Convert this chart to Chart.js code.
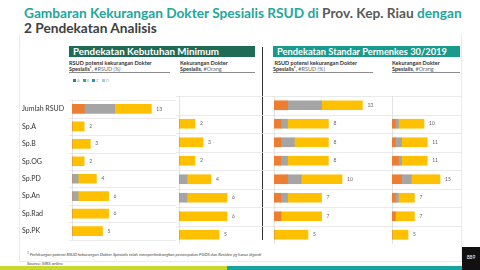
<!DOCTYPE html>
<html>
<head>
<meta charset="utf-8">
<script src="https://cdn.jsdelivr.net/npm/chart.js@4"></script>
<style>
  html, body { margin: 0; padding: 0; }
  body { width: 480px; height: 270px; position: relative; overflow: hidden; background: #fff; font-family: Lato, "Open Sans", sans-serif; }
  .abs { position: absolute; }
  .frame { left: 19px; top: 34px; width: 441px; height: 227px; border: 1px solid #ece8f5; border-top: none; }
  .title { left: 24px; top: 5px; font-size: 13.7px; font-weight: 700; line-height: 15px; color: #23a69b; white-space: nowrap; }
  .title .g { color: #595959; }
  .title .d { color: #404040; }
  .hdr { top: 46px; height: 11px; color: #fff; font-weight: 700; font-size: 9.3px; line-height: 11px; padding-left: 4px; box-sizing: border-box; white-space: nowrap; }
  .sub { top: 60px; font-size: 5.5px; line-height: 6px; color: #333; border-bottom: 1.5px solid #8c8c8c; height: 12.5px; box-sizing: border-box; white-space: nowrap; }
  .sub b { font-weight: 700; }
  .sub span { color: #666; }
  .legend { left: 71px; top: 78px; font-size: 4px; color: #9aa; white-space: nowrap; }
  .legend i { display: inline-block; width: 3px; height: 3px; margin: 0 1px 0 2px; }
  .vsep { left: 262px; top: 47px; width: 1.2px; height: 193px; background: #333; }
  canvas { position: absolute; top: 96px; }
  .note { left: 27px; top: 251px; font-size: 4.3px; font-style: italic; color: #444; white-space: nowrap; }
  .src { left: 27px; top: 261px; font-size: 4.3px; color: #444; }
  .stripe1 { left: 0; top: 266px; width: 227px; height: 4px; background: #c8d82e; }
  .stripe2 { left: 227px; top: 266px; width: 236px; height: 4px; background: #17a59b; }
  .page { left: 462px; top: 247px; width: 18px; height: 23px; background: #111; color: #fff; font-size: 5px; text-align: center; line-height: 20px; }
</style>
</head>
<body>
<div class="abs frame"></div>
<div class="abs title">Gambaran Kekurangan Dokter Spesialis RSUD di <span class="g">Prov. Kep. Riau</span> dengan<br><span class="d">2 Pendekatan Analisis</span></div>

<div class="abs hdr" style="left:69px;width:186px;background:#1f6b56;font-size:9.8px;">Pendekatan Kebutuhan Minimum</div>
<div class="abs hdr" style="left:273px;width:187px;background:#189b8d;">Pendekatan Standar Permenkes 30/2019</div>

<div class="abs sub" style="left:69px;width:101px;"><b>RSUD potensi kekurangan Dokter</b><br><b>Spesialis¹</b>, <span>#RSUD <i>(%)</i></span></div>
<div class="abs sub" style="left:180px;width:75px;"><b>Kekurangan Dokter</b><br><b>Spesialis</b>, <span>#Orang</span></div>
<div class="abs sub" style="left:273px;width:100px;">&nbsp;<b>RSUD potensi kekurangan Dokter</b><br><b>Spesialis¹</b>, <span>#RSUD (%)</span></div>
<div class="abs sub" style="left:392px;width:68px;"><b>Kekurangan Dokter</b><br><b>Spesialis</b>, <span>#Orang</span></div>

<div class="abs legend"><i style="background:#1f8f86"></i>A <i style="background:#3aa0a8"></i>B <i style="background:#2f8fb0"></i>C <i style="background:#9fd0d8"></i>D</div>
<div class="abs vsep"></div>

<canvas id="c1" width="176" height="148" style="left:0px"></canvas>
<canvas id="c2" width="87" height="148" style="left:176px"></canvas>
<canvas id="c3" width="126" height="148" style="left:263px"></canvas>
<canvas id="c4" width="72" height="148" style="left:389px"></canvas>

<div class="abs note"><sup style="font-size:3px">1</sup> Perhitungan potensi RSUD kekurangan Dokter Spesialis telah mempertimbangkan penempatan PGDS dan Residen yg harus diganti</div>
<div class="abs src">Source: SIRS online</div>
<div class="abs stripe1"></div>
<div class="abs stripe2"></div>
<div class="abs page">889</div>

<script>
const categories = ['Jumlah RSUD', 'Sp.A', 'Sp.B', 'Sp.OG', 'Sp.PD', 'Sp.An', 'Sp.Rad', 'Sp.PK'];

// Pendekatan Kebutuhan Minimum - #RSUD
const minRsudOrange = [2, 0, 0, 0, 0, 0, 0, 0];
const minRsudGray   = [5, 0, 0, 0, 1, 1, 0, 0];
const minRsudYellow = [6, 2, 3, 2, 3, 5, 6, 5];

// Pendekatan Kebutuhan Minimum - #Orang
const minOrangOrange = [null, 0, 0, 0, 0, 0, 0, 0];
const minOrangGray   = [null, 0, 0, 0, 1, 1, 0, 0];
const minOrangYellow = [null, 2, 3, 2, 3, 5, 6, 5];

// Pendekatan Standar Permenkes 30/2019 - #RSUD
const stdRsudOrange = [2, 1, 1, 1, 2, 1, 1, 0];
const stdRsudGray   = [5, 1, 2, 1, 2, 1, 0, 0];
const stdRsudYellow = [6, 6, 5, 6, 6, 5, 6, 5];

// Pendekatan Standar Permenkes 30/2019 - #Orang
const stdOrangOrange = [null, 1, 1, 2, 3, 1, 1, 0];
const stdOrangGray   = [null, 1, 2, 1, 3, 1, 0, 0];
const stdOrangYellow = [null, 8, 8, 8, 9, 5, 6, 5];

const COLORS = ['#ed7d31', '#a5a5a5', '#ffc000'];

// row separators + axis line + value labels
const rowsPlugin = {
    id: 'rows',
    beforeDatasetsDraw(chart, args, opts) {
        const { ctx, chartArea } = chart;
        const band = (chartArea.bottom - chartArea.top) / categories.length;
        ctx.save();
        ctx.strokeStyle = '#e4e4e4';
        ctx.lineWidth = 0.8;
        for (let i = 0; i <= categories.length; i++) {
            const py = Math.round(chartArea.top + i * band) + 0.5;
            ctx.beginPath();
            ctx.moveTo(opts.lineStart || 0, py);
            ctx.lineTo(chart.width, py);
            ctx.stroke();
        }
        ctx.strokeStyle = '#dcdcdc';
        ctx.beginPath();
        ctx.moveTo(chartArea.left + 0.5, chartArea.top);
        ctx.lineTo(chartArea.left + 0.5, chartArea.bottom);
        ctx.stroke();
        ctx.restore();
    },
    afterDatasetsDraw(chart) {
        const { ctx, scales } = chart;
        ctx.save();
        ctx.font = '5px Lato, sans-serif';
        ctx.fillStyle = '#666';
        ctx.textBaseline = 'middle';
        categories.forEach((c, i) => {
            let total = null;
            chart.data.datasets.forEach(ds => {
                if (ds.data[i] != null) total = (total || 0) + ds.data[i];
            });
            if (total == null) return;
            ctx.fillText(String(total), scales.x.getPixelForValue(total) + 5, scales.y.getPixelForValue(i));
        });
        ctx.restore();
    }
};

function makeChart(id, series, xMax, padLeft, lineStart, showLabels) {
    const yScale = {
        stacked: true,
        display: showLabels,
        grid: { display: false },
        border: { display: false },
        ticks: { crossAlign: 'far', color: '#333', font: { family: 'Lato, sans-serif', size: 7 }, padding: 0 }
    };
    if (showLabels) yScale.afterFit = scale => { scale.width = 50; };
    return new Chart(document.getElementById(id), {
        type: 'bar',
        data: {
            labels: categories,
            datasets: series.map((d, k) => ({
                data: d,
                backgroundColor: COLORS[k],
                borderWidth: 0,
                barThickness: 9
            }))
        },
        options: {
            indexAxis: 'y',
            responsive: false,
            animation: false,
            devicePixelRatio: 1,
            layout: { padding: { left: padLeft, right: 0, top: 0, bottom: 0 } },
            plugins: { legend: { display: false }, tooltip: { enabled: false }, rows: { lineStart } },
            scales: {
                x: { stacked: true, min: 0, max: xMax, display: false },
                y: yScale
            }
        },
        plugins: [rowsPlugin]
    });
}

makeChart('c1', [minRsudOrange, minRsudGray, minRsudYellow], 104 / 6.1, 22, 69, true);
makeChart('c2', [minOrangOrange, minOrangGray, minOrangYellow], 84 / 8, 3, 0, false);
makeChart('c3', [stdRsudOrange, stdRsudGray, stdRsudYellow], 115 / 6.8, 11, 0, false);
makeChart('c4', [stdOrangOrange, stdOrangGray, stdOrangYellow], 69 / 3.2, 3, 0, false);
</script>
</body>
</html>
